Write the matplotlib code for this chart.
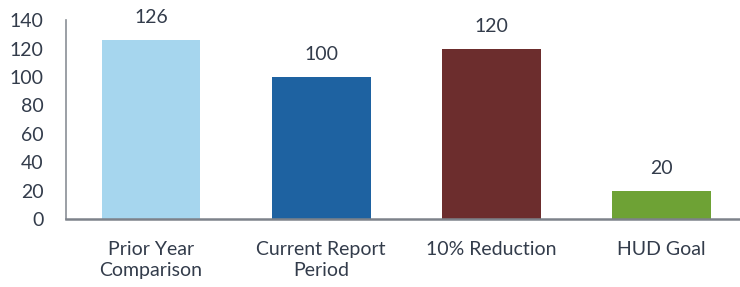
import matplotlib
matplotlib.use("Agg")
import matplotlib.pyplot as plt

categories = ["Prior Year\nComparison", "Current Report\nPeriod", "10% Reduction", "HUD Goal"]
values = [126, 100, 120, 20]
colors = ["#a6d6ee", "#1e62a1", "#6c2d2d", "#6ea235"]
yticks = [0, 20, 40, 60, 80, 100, 120, 140]

plt.rcParams['font.family'] = ['Lato', 'DejaVu Sans']
txt = "#333c4b"

fig = plt.figure(figsize=(7.4, 2.87), dpi=100)
ax = fig.add_axes([0.089, 0.237, 0.911, 0.693])
x = list(range(len(values)))
ax.bar(x, values, width=0.58, color=colors)
for xi, v in zip(x, values):
    ax.annotate(str(v), (xi, v), xytext=(0, 10), textcoords="offset points",
                ha="center", va="bottom", fontsize=14, color=txt)
ax.set_ylim(0, 140)
ax.set_xlim(-0.5, 3.46)
ax.set_yticks(yticks)
ax.set_yticklabels([str(t) for t in yticks], fontsize=14, color=txt)
ax.set_xticks(x)
ax.set_xticklabels(categories, fontsize=14, color=txt, linespacing=1.3)
ax.tick_params(axis="both", length=0)
ax.tick_params(axis="x", pad=16)
ax.tick_params(axis="y", pad=16)
for s in ["top", "right"]:
    ax.spines[s].set_visible(False)
ax.spines["left"].set_color("#8a8f96")
ax.spines["bottom"].set_color("#7d828a")
ax.spines["left"].set_linewidth(1.2)
ax.spines["bottom"].set_linewidth(1.8)
fig.savefig("out.png", dpi=100)
